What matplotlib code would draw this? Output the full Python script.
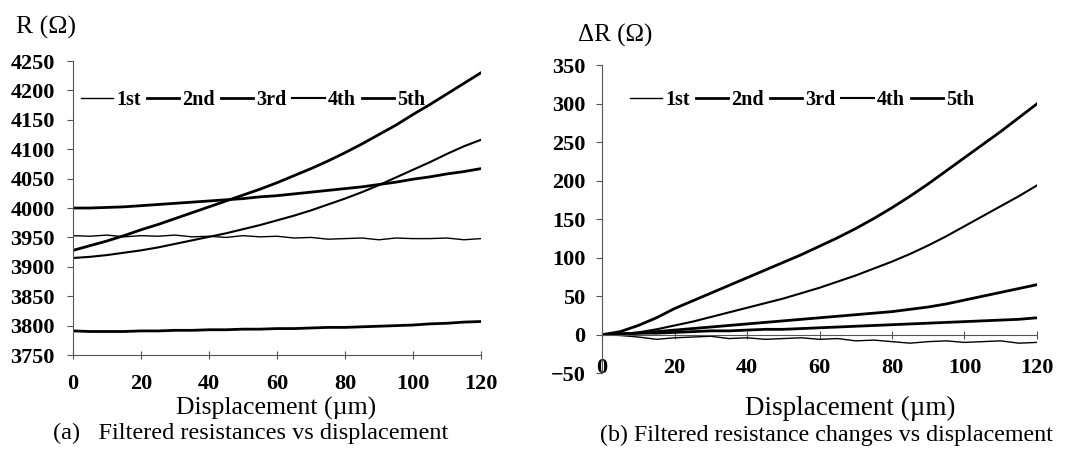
import matplotlib
matplotlib.use("Agg")
import matplotlib.pyplot as plt

plt.rcParams['font.family'] = ['Liberation Serif', 'DejaVu Serif']

# displacement samples (um)
disp = [0, 5, 10, 15, 20, 25, 30, 35, 40, 45, 50, 55, 60,
        65, 70, 75, 80, 85, 90, 95, 100, 105, 110, 115, 120]

# (a) filtered resistances, ohm
r_1st = [3953, 3952, 3954, 3951, 3953, 3952, 3954, 3951, 3952, 3950, 3953, 3951, 3952,
         3949, 3950, 3947, 3948, 3949, 3946, 3949, 3948, 3948, 3949, 3946, 3948]
r_2nd = [3791, 3790, 3790, 3790, 3791, 3791, 3792, 3792, 3793, 3793, 3794, 3794, 3795,
         3795, 3796, 3797, 3797, 3798, 3799, 3800, 3801, 3803, 3804, 3806, 3807]
r_3rd = [4000, 4000, 4001, 4002, 4004, 4006, 4008, 4010, 4012, 4014, 4016, 4019, 4021,
         4024, 4027, 4030, 4033, 4036, 4040, 4044, 4049, 4053, 4058, 4062, 4067]
r_4th = [3915, 3917, 3920, 3924, 3928, 3933, 3939, 3945, 3951, 3957, 3964, 3971, 3979,
         3987, 3996, 4006, 4016, 4027, 4039, 4052, 4065, 4078, 4092, 4105, 4116]
r_5th = [3928, 3936, 3944, 3953, 3963, 3972, 3982, 3992, 4002, 4012, 4022, 4032, 4043,
         4055, 4067, 4080, 4094, 4109, 4125, 4141, 4159, 4176, 4194, 4212, 4230]

# (b) filtered resistance changes, ohm
dr_1st = [0, -1, -3, -6, -4, -3, -2, -5, -4, -6, -5, -4, -6,
          -5, -8, -7, -9, -11, -9, -8, -10, -9, -8, -11, -10]
dr_2nd = [0, 1, 2, 2, 3, 4, 5, 5, 6, 7, 7, 8, 9,
          10, 11, 12, 13, 14, 15, 16, 17, 18, 19, 20, 22]
dr_3rd = [0, 1, 2, 4, 6, 8, 10, 12, 14, 16, 18, 20, 22,
          24, 26, 28, 30, 33, 36, 40, 45, 50, 55, 60, 65]
dr_4th = [0, 1, 3, 7, 12, 17, 23, 29, 35, 41, 47, 54, 61,
          69, 77, 86, 95, 105, 116, 128, 141, 154, 167, 180, 194]
dr_5th = [0, 4, 12, 22, 34, 44, 54, 64, 74, 84, 94, 104, 115,
          126, 138, 151, 165, 180, 196, 213, 230, 247, 264, 282, 300]

labels = ["1st", "2nd", "3rd", "4th", "5th"]
widths = [1.0, 2.0, 2.0, 1.5, 2.0]

fig = plt.figure(figsize=(10.79, 4.54), dpi=100)
ax1 = fig.add_axes([0.0677, 0.218, 0.378, 0.6476])
ax2 = fig.add_axes([0.558, 0.178, 0.403, 0.678])

legend_anchor = {ax1: (0.0, 0.93), ax2: (0.046, 0.945)}

for ax, series in ((ax1, [r_1st, r_2nd, r_3rd, r_4th, r_5th]),
                   (ax2, [dr_1st, dr_2nd, dr_3rd, dr_4th, dr_5th])):
    for s, lab, lw in zip(series, labels, widths):
        ax.plot(disp, s, color="black", lw=lw, label=lab)
    ax.set_xlim(0, 120)
    ax.set_xticks(range(0, 121, 20))
    for side in ("top", "right"):
        ax.spines[side].set_visible(False)
    for side in ("left", "bottom"):
        ax.spines[side].set_linewidth(0.8)
        ax.spines[side].set_color("#555555")
    ax.tick_params(axis="y", direction="out", length=4, width=0.8, color="#555555",
                   labelsize=16)
    ax.tick_params(axis="x", direction="inout", length=6, width=0.8, color="#555555",
                   labelsize=16)
    ax.legend(loc="upper left", bbox_to_anchor=legend_anchor[ax], ncol=5, frameon=False,
              prop={"weight": "bold", "size": 14.5}, handlelength=1.6,
              handletextpad=0.15, columnspacing=0.3, borderaxespad=0)

ax1.set_ylim(3750, 4250)
ax1.set_yticks(range(3750, 4251, 50))
ax1.tick_params(axis="y", pad=9)
ax1.tick_params(axis="x", pad=11)

ax2.set_ylim(-50, 350)
ax2.set_yticks(range(-50, 351, 50))
ax2.spines["bottom"].set_position(("data", 0))
ax2.tick_params(axis="y", pad=8)
ax2.tick_params(axis="x", pad=14)

for ax in (ax1, ax2):
    plt.setp(ax.get_xticklabels() + ax.get_yticklabels(), fontweight="bold")

fig.text(0.015, 0.94, "R (\u03a9)", fontsize=18.5, va="center", ha="left")
fig.text(0.536, 0.923, "\u0394R (\u03a9)", fontsize=18, va="center", ha="left")

fig.text(0.256, 0.101, "Displacement (\u00b5m)", fontsize=18.5, ha="center", va="center")
fig.text(0.232, 0.046, "(a)   Filtered resistances vs displacement", fontsize=17.5,
         ha="center", va="center")
fig.text(0.788, 0.101, "Displacement (\u00b5m)", fontsize=19.5, ha="center", va="center")
fig.text(0.766, 0.042, "(b) Filtered resistance changes vs displacement", fontsize=17.3,
         ha="center", va="center")

fig.savefig("out.png", dpi=100)
